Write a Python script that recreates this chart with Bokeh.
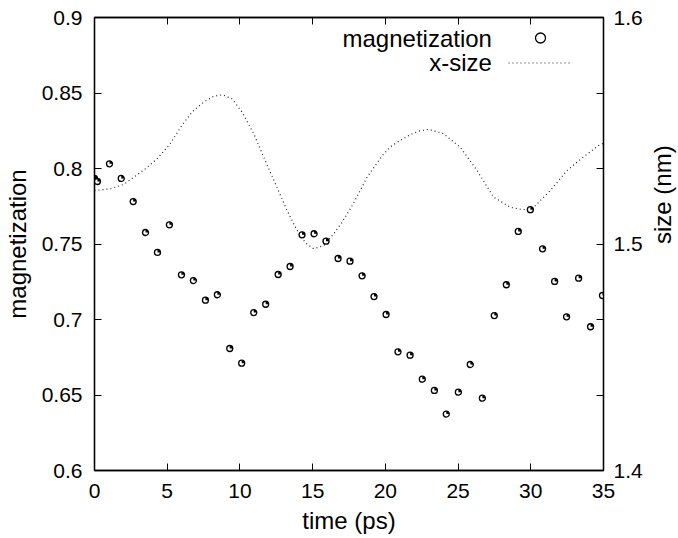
import math
from bokeh.plotting import figure
from bokeh.models import (Range1d, LinearAxis, FixedTicker, CustomJSTickFormatter,
                          Legend, LegendItem, Label)
from bokeh.embed import file_html
from bokeh.resources import INLINE

# ---- data ----
t_mag = [0.0, 0.2, 1.03, 1.84, 2.66, 3.51, 4.33, 5.15, 5.98, 6.80, 7.63, 8.45, 9.30, 10.12,
         10.95, 11.77, 12.63, 13.45, 14.27, 15.10, 15.92, 16.75, 17.57, 18.40, 19.22, 20.05,
         20.87, 21.70, 22.54, 23.37, 24.19, 25.02, 25.84, 26.67, 27.49, 28.32, 29.14, 29.97,
         30.81, 31.64, 32.46, 33.29, 34.11, 34.93]
magnetization = [0.7934, 0.7914, 0.8031, 0.7934, 0.7781, 0.7576, 0.7444, 0.7627, 0.7296, 0.7258,
                 0.7128, 0.7164, 0.6808, 0.6711, 0.7046, 0.7101, 0.7298, 0.7351, 0.7561, 0.7568,
                 0.7519, 0.7404, 0.7386, 0.7289, 0.7152, 0.7033, 0.6786, 0.6764, 0.6605, 0.6530,
                 0.6374, 0.6519, 0.6702, 0.6479, 0.7026, 0.7230, 0.7583, 0.7727, 0.7468, 0.7252,
                 0.7018, 0.7274, 0.6952, 0.7159]

t_size = [0.0, 1.1, 2.0, 2.7, 3.5, 4.3, 5.2, 6.0, 6.7, 7.5, 8.2, 8.8, 9.46, 10.15, 10.95, 11.64,
          12.44, 13.24, 13.93, 14.5, 15.07, 15.76, 16.45, 17.02, 17.59, 18.16, 18.74, 19.31,
          19.88, 20.46, 21.03, 21.72, 22.29, 22.96, 24.0, 25.15, 26.3, 27.44, 28.6, 29.5, 30.2,
          31.34, 32.5, 33.6, 34.66, 35.0]
x_size = [1.5236, 1.5244, 1.5263, 1.5295, 1.5332, 1.5376, 1.5442, 1.5523, 1.5582, 1.5626, 1.5652,
          1.5659, 1.5641, 1.5582, 1.5487, 1.5383, 1.5266, 1.5148, 1.5060, 1.5005, 1.4979, 1.4993,
          1.5045, 1.5096, 1.5155, 1.5222, 1.5295, 1.5347, 1.5398, 1.5435, 1.5457, 1.5483, 1.5498,
          1.5506, 1.5487, 1.5427, 1.5325, 1.5207, 1.5162, 1.5151, 1.5162, 1.5236, 1.5325, 1.5383,
          1.5435, 1.5445]

x_ticks = [0, 5, 10, 15, 20, 25, 30, 35]
y_ticks = [0.6, 0.65, 0.7, 0.75, 0.8, 0.85, 0.9]
y2_labels = [1.4, 1.5, 1.6]

FONT = "Liberation Sans"
TICK_FS = "21px"
LAB_FS = "24px"

p = figure(width=678, height=538, output_backend="svg", toolbar_location=None,
           x_range=Range1d(0, 35), y_range=Range1d(0.6, 0.9),
           min_border_left=94, min_border_right=75, min_border_top=17, min_border_bottom=68)
p.extra_y_ranges = {"size": Range1d(1.4, 1.6)}
p.xgrid.visible = False
p.ygrid.visible = False
p.outline_line_color = "black"
p.outline_line_width = 1.3
p.background_fill_color = "white"
p.border_fill_color = "white"


def style(ax):
    ax.major_tick_in = 7
    ax.major_tick_out = 0
    ax.minor_tick_in = 0
    ax.minor_tick_out = 0
    ax.axis_line_color = "black"
    ax.axis_line_width = 1.3
    ax.major_tick_line_color = "black"
    ax.major_tick_line_width = 1
    ax.major_label_text_font = FONT
    ax.major_label_text_font_size = TICK_FS
    ax.major_label_text_color = "black"
    ax.axis_label_text_font = FONT
    ax.axis_label_text_font_size = LAB_FS
    ax.axis_label_text_font_style = "normal"
    ax.axis_label_text_color = "black"


xa = p.xaxis[0]
style(xa)
xa.ticker = FixedTicker(ticks=x_ticks)
xa.axis_label = "time (ps)"
xa.major_label_standoff = 13
xa.axis_label_standoff = 6

ya = p.yaxis[0]
style(ya)
ya.ticker = FixedTicker(ticks=y_ticks)
ya.formatter = CustomJSTickFormatter(code="return String(parseFloat(tick.toFixed(2)));")
ya.axis_label = "magnetization"
ya.major_label_standoff = 12
ya.axis_label_standoff = 8

# mirrored ticks on the top border, no labels
top = LinearAxis(ticker=FixedTicker(ticks=x_ticks),
                 formatter=CustomJSTickFormatter(code="return '';"))
style(top)
top.major_label_standoff = 0
p.add_layout(top, "above")

# right axis: mirror ticks of the left axis, labels only at 1.4 / 1.5 / 1.6
lo, hi = 1.4, 1.6
mirror = [lo + (v - 0.6) * (hi - lo) / 0.3 for v in y_ticks]
ra = LinearAxis(y_range_name="size", ticker=FixedTicker(ticks=mirror),
                formatter=CustomJSTickFormatter(
                    args=dict(labs=y2_labels),
                    code="for (const l of labs) { if (Math.abs(tick - l) < 1e-6) return l.toFixed(1); } return '';"))
style(ra)
ra.major_label_standoff = 10
p.add_layout(ra, "right")

# right axis title (reads bottom-to-top as in the reference), drawn as a bare outer axis
rt = LinearAxis(y_range_name="size", ticker=FixedTicker(ticks=[(lo + hi) / 2]))
rt.axis_line_color = None
rt.major_tick_line_color = None
rt.major_tick_in = 0
rt.major_tick_out = 0
rt.major_label_orientation = math.pi / 2
rt.major_label_text_font = FONT
rt.major_label_text_font_size = LAB_FS
rt.major_label_text_color = "black"
try:
    # a trailing empty line with a negative line height keeps the reserved box small
    rt.major_label_text_line_height = -1.0
    rt.formatter = CustomJSTickFormatter(code="return 'size (nm)\\n';")
    rt.major_label_standoff = 3
except Exception:
    rt.formatter = CustomJSTickFormatter(code="return 'size (nm)';")
    rt.major_label_text_font_size = "22px"
    rt.major_label_standoff = 2
    ra.major_label_standoff = 6
    p.min_border_right = 80
p.add_layout(rt, "right")

# data
ln = p.line(t_size, x_size, y_range_name="size", line_color="#222222", line_width=1.2,
            line_dash="1 3")
sc = p.scatter(t_mag, magnetization, marker="circle", size=6, fill_color="white",
               line_color="black", line_width=1.3)
p.wedge(x=t_mag, y=magnetization, radius=3, radius_units="screen", start_angle=0,
        end_angle=math.pi / 2, fill_color="black", line_color=None)

# legend (gnuplot style: text on the left, sample on the right)
leg = Legend(items=[LegendItem(label=" ", renderers=[sc]), LegendItem(label=" ", renderers=[ln])],
             location=(414, 395), glyph_width=64, glyph_height=25, label_width=0, label_height=25,
             label_standoff=0, padding=0, margin=0, spacing=0, border_line_color=None,
             background_fill_alpha=0, label_text_font_size="1px")
p.add_layout(leg)
for txt, yy in [("magnetization", 0.8861), ("x-size", 0.8704)]:
    p.add_layout(Label(x=27.33, y=yy, text=txt, text_align="right", text_baseline="middle",
                       text_font=FONT, text_font_size=LAB_FS, text_color="black"))

open("out.html", "w").write(file_html(p, INLINE))
